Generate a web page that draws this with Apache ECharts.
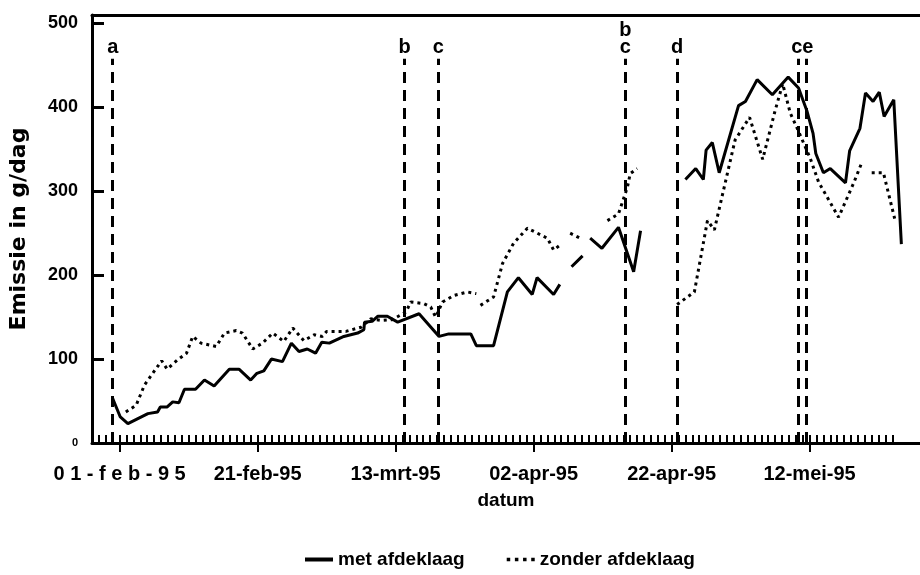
<!DOCTYPE html>
<html>
<head>
<meta charset="utf-8">
<script src="https://cdn.jsdelivr.net/npm/echarts@6/dist/echarts.min.js"></script>
<style>
html,body{margin:0;padding:0;background:#fff;}
#chart{width:920px;height:575px;}
</style>
</head>
<body>
<div id="chart"></div>
<script>
// ---- data (x = days since 01-feb-95) ----
const dayMin = -4, dayMax = 116;
const tickDays = [0, 20, 40, 60, 80, 100];
const tickLabels = ['0 1 - f e b - 9 5', '21-feb-95', '13-mrt-95', '02-apr-95', '22-apr-95', '12-mei-95'];

const metDays = [-1.0,0.1,1.2,4.1,5.5,5.9,6.9,7.7,8.6,9.4,11.0,12.3,13.7,15.9,17.3,19.0,19.9,20.9,22.0,23.6,24.9,26.0,27.2,28.4,29.3,30.4,32.5,34.5,35.4,35.5,36.6,37.4,38.8,40.3,43.4,46.3,47.7,50.9,51.7,54.2,56.2,57.8,59.8,60.5,62.9,63.8,
  64.6,65.5,67.1,
  67.6,68.2,69.9,72.3,74.5,75.5,
  78.0,82.0,83.5,84.6,85.0,85.9,86.9,89.7,90.7,92.4,94.6,96.9,98.4,99.6,100.5,100.9,102.0,103.0,105.2,105.8,107.3,108.1,109.2,110.1,110.8,112.2,113.3];
const metVals = [53,31,23,35,37,43,43,49,48,64,64,75,68,88,88,75,83,86,100,97,119,109,112,107,120,119,127,131,135,144,145,151,151,144,154,127,130,130,116,116,180,197,177,197,177,189,
  null,210,223,
  null,244,232,257,204,253,
  null,314,327,314,349,358,322,402,407,433,415,436,423,396,369,345,322,327,310,348,375,417,407,418,389,409,237];

const zonderDays = [0.9,2.4,3.6,4.8,6.1,6.9,8.4,9.7,10.6,11.8,14.0,15.2,16.9,17.8,19.3,20.7,22.2,23.8,25.1,26.7,28.2,29.4,30.0,32.8,35.0,36.4,38.0,39.5,41.5,42.2,44.1,45.1,45.8,46.8,48.5,50.4,51.7,
  52.0,52.3,54.2,55.5,57.1,59.1,62.0,62.9,63.7,
  64.5,65.3,67.0,
  69.0,70.7,72.3,73.6,74.0,75.0,
  78.0,80.8,83.3,85.2,86.2,89.2,91.3,93.2,95.0,96.1,97.2,98.1,100.1,101.3,104.2,106.4,107.6,
  108.3,109.0,110.7,112.4];
const zonderVals = [37,45,69,83,98,88,99,107,127,119,115,131,134,131,112,119,131,121,137,122,129,127,133,133,138,148,146,147,156,168,166,162,150,168,176,180,178,
  null,164,174,214,238,256,244,230,235,
  null,250,243,
  null,265,273,305,321,327,
  null,165,180,265,254,361,388,338,396,428,393,377,339,311,269,310,335,
  null,322,322,265];

// event markers (vertical dashed lines) and their letters
const eventDays = [-1.0, 41.3, 46.2, 73.3, 80.8, 98.4, 99.5];
const eventLabelDays = [-1.0, 41.3, 46.2, 73.3, 80.8, 98.95];
const eventLabelTexts = ['a', 'b', 'c', 'b\nc', 'd', 'ce'];

const yTicks = [0, 100, 200, 300, 400, 500];

// ---- build ----
const cats = [];
for (let d = dayMin; d <= dayMax; d++) cats.push(String(d));
const pairs = (xs, ys) => xs.map((x, i) => [x, ys[i]]);
const lineTop = 458;
const FONT = 'Liberation Sans, Arial, sans-serif';

const chart = echarts.init(document.getElementById('chart'), null, {renderer: 'canvas'});
chart.setOption({
  animation: false,
  backgroundColor: '#fff',
  grid: {left: 91, right: 0, top: 15, bottom: 132},
  legend: {
    show: true,
    left: 300, top: 545,
    itemWidth: 28, itemHeight: 4, itemGap: 42,
    textStyle: {fontFamily: FONT, fontWeight: 'bold', fontSize: 19, color: '#000'},
    data: [
      {name: 'met afdeklaag', icon: 'rect'},
      {name: 'zonder afdeklaag', icon: 'path://M0,0h3v3h-3zM7,0h3v3h-3zM14,0h3v3h-3zM21,0h3v3h-3z'}
    ]
  },
  xAxis: [
    {
      type: 'value', position: 'top', min: dayMin, max: dayMax,
      axisLine: {show: true, onZero: false, lineStyle: {color: '#000', width: 3}},
      axisTick: {show: false}, axisLabel: {show: false}, splitLine: {show: false}
    },
    {
      type: 'category', position: 'bottom', data: cats, boundaryGap: false,
      axisLine: {show: true, onZero: false, lineStyle: {color: '#000', width: 3}},
      axisTick: {show: true, inside: false, length: 9, lineStyle: {color: '#000', width: 2},
        interval: (i) => tickDays.indexOf(i + dayMin) >= 0},
      axisLabel: {show: true, margin: 21, fontFamily: FONT, fontWeight: 'bold', fontSize: 20, color: '#000',
        interval: (i) => tickDays.indexOf(i + dayMin) >= 0,
        formatter: (v, i) => { const k = tickDays.indexOf(Number(v)); return k >= 0 ? tickLabels[k] : ''; }},
      splitLine: {show: false},
      name: 'datum', nameLocation: 'middle', nameGap: 48,
      nameTextStyle: {fontFamily: FONT, fontWeight: 'bold', fontSize: 19, color: '#000'}
    },
    {
      type: 'category', position: 'bottom', data: cats, boundaryGap: false,
      axisLine: {show: false, onZero: false},
      axisTick: {show: true, inside: true, length: 8, lineStyle: {color: '#000', width: 2},
        interval: (i) => i >= 1 && i <= 116},
      axisLabel: {show: false}, splitLine: {show: false}
    }
  ],
  yAxis: {
    type: 'value', min: 0, max: 510, interval: 100,
    axisLine: {show: true, onZero: false, lineStyle: {color: '#000', width: 3}},
    axisTick: {show: true, inside: true, length: 12, lineStyle: {color: '#000', width: 3}},
    splitLine: {show: false},
    axisLabel: {
      margin: 14, fontFamily: FONT, fontWeight: 'bold', fontSize: 18, color: '#000',
      formatter: (v) => v === 0 ? '{s|0}' : (yTicks.indexOf(v) >= 0 ? String(v) : ''),
      rich: {s: {fontFamily: FONT, fontWeight: 'bold', fontSize: 11, color: '#000'}}
    },
    name: 'Emissie in g/dag', nameLocation: 'middle', nameRotate: 90, nameGap: 62,
    nameTextStyle: {fontFamily: 'DejaVu Sans, sans-serif', fontWeight: 'bold', fontSize: 22, color: '#000'}
  },
  series: [
    {
      name: 'met afdeklaag', type: 'line', xAxisIndex: 0, data: pairs(metDays, metVals),
      showSymbol: false, symbol: 'none', connectNulls: false,
      lineStyle: {color: '#000', width: 3},
      itemStyle: {color: '#000'},
      markLine: {
        silent: true, symbol: 'none', label: {show: false},
        lineStyle: {color: '#000', width: 3, type: [11, 7]},
        data: eventDays.map(d => [{coord: [d, 0]}, {coord: [d, lineTop]}])
      }
    },
    {
      name: 'zonder afdeklaag', type: 'line', xAxisIndex: 0, data: pairs(zonderDays, zonderVals),
      showSymbol: false, symbol: 'none', connectNulls: false,
      lineStyle: {color: '#000', width: 3, type: [3, 4]},
      itemStyle: {color: '#000'}
    },
    {
      name: 'events', type: 'scatter', xAxisIndex: 0, symbolSize: 1, silent: true,
      itemStyle: {color: '#fff', opacity: 1},
      data: eventLabelDays.map((d, i) => ({value: [d, lineTop], name: eventLabelTexts[i]})),
      label: {show: true, position: 'top', distance: 2, formatter: '{b}', opacity: 1,
        fontFamily: FONT, fontWeight: 'bold', fontSize: 20, lineHeight: 17, color: '#000',
        textBorderWidth: 0}
    }
  ]
});
</script>
</body>
</html>
